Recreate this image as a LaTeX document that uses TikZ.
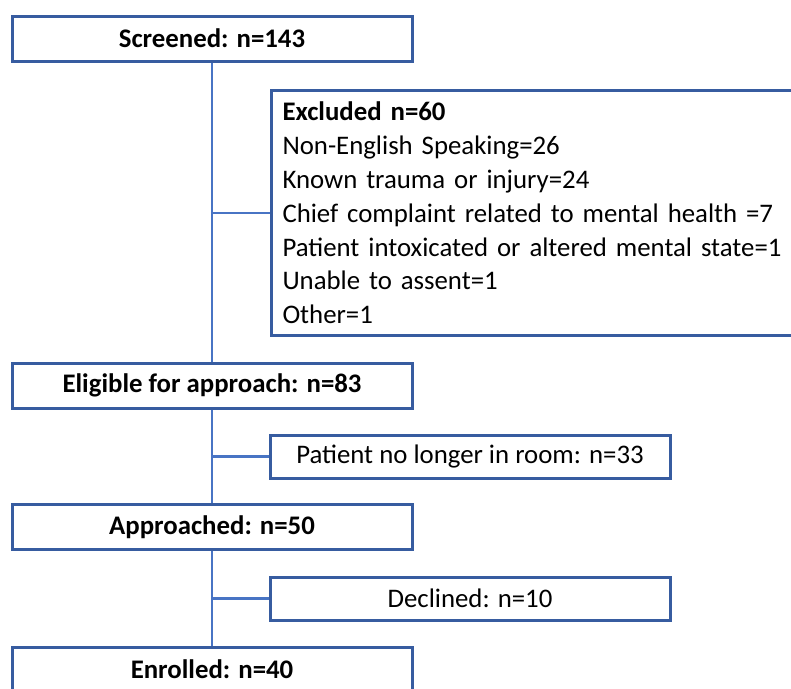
\documentclass[tikz,border=0pt]{standalone}
\usepackage{fontspec}
\setmainfont{Carlito}
\definecolor{boxblue}{RGB}{55,92,160}
\definecolor{lineblue}{RGB}{72,116,196}
\begin{document}
\begin{tikzpicture}[x=1pt,y=-1pt,
  mainbox/.style={draw=boxblue,line width=3pt,minimum width=400pt,minimum height=45pt,
    inner sep=0pt,font=\fontsize{26.8}{30}\selectfont\bfseries},
  sidebox/.style={draw=boxblue,line width=3pt,minimum width=400pt,minimum height=43pt,
    inner sep=0pt,font=\fontsize{26.8}{30}\selectfont},
  conn/.style={draw=lineblue,line width=2.6pt}]
\useasboundingbox (0,0) rectangle (791,688);
\clip (0,0) rectangle (791,688);
\node[mainbox] (scr) at (212,38.5) {Screened: n=143};
\node[draw=boxblue,line width=3pt,anchor=north west,minimum width=560pt,minimum height=245pt,
  inner xsep=11pt,inner ysep=0pt,text width=538pt,align=left,
  font=\fontsize{26.8}{33.8}\selectfont] (exc) at (270,89)
  {\textbf{Excluded n=60}\\
   Non-English Speaking=26\\
   Known trauma or injury=24\\
   Chief complaint related to mental health =7\\
   Patient intoxicated or altered mental state=1\\
   Unable to assent=1\\
   Other=1};
\node[mainbox] (eli) at (212,385.5) {Eligible for approach: n=83};
\node[sidebox] (pat) at (470,456.5) {Patient no longer in room: n=33};
\node[mainbox] (app) at (212,527) {Approached: n=50};
\node[sidebox] (dec) at (470,598.5) {Declined: n=10};
\node[mainbox] (enr) at (212,669.5) {Enrolled: n=40};
\draw[conn] (scr.south) -- (eli.north);
\draw[conn] (eli.south) -- (app.north);
\draw[conn] (app.south) -- (enr.north);
\draw[conn] (exc.west) -- (exc.west -| scr.south);
\draw[conn] (pat.west) -- (pat.west -| eli.south);
\draw[conn] (dec.west) -- (dec.west -| app.south);
\end{tikzpicture}
\end{document}
